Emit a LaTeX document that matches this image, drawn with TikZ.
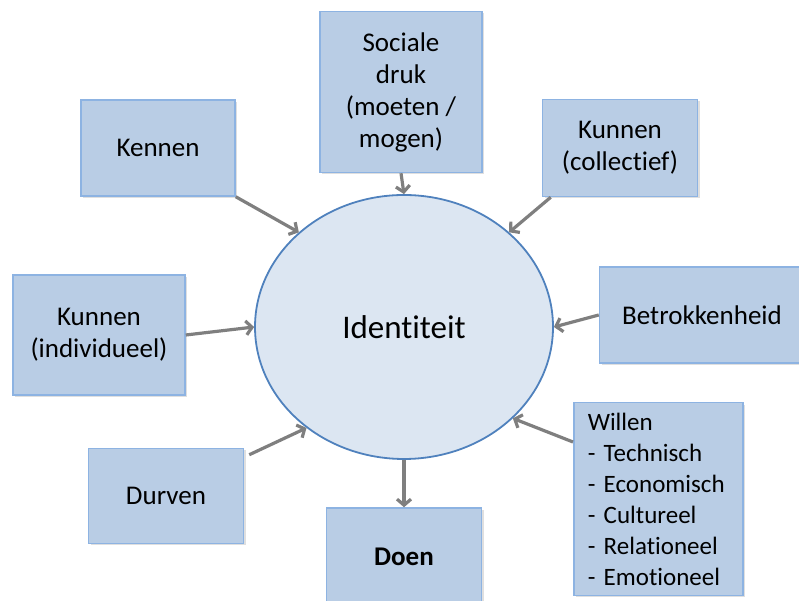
\documentclass[tikz,border=0pt]{standalone}
\usepackage{fontspec}
\setmainfont{Carlito}[Ligatures=NoCommon]
\usepackage{tikz}
\usetikzlibrary{arrows.meta,shapes.geometric,shadows}

\definecolor{boxfill}{HTML}{B9CDE5}
\definecolor{boxline}{HTML}{8DB3E2}
\definecolor{idfill}{HTML}{DCE6F2}
\definecolor{idline}{HTML}{4F81BD}
\definecolor{arrowgray}{HTML}{7F7F7F}

\begin{document}
\begin{tikzpicture}[x=1pt,y=1pt,->,>={Straight Barb[length=6pt,width=14pt]},line width=3.2pt,draw=arrowgray]
  \tikzstyle{factor}=[rectangle,fill=boxfill,draw=boxline,line width=1.5pt,
    align=center,inner sep=0pt,text=black,
    drop shadow={shadow xshift=2pt,shadow yshift=-2pt,opacity=.25},
    font=\fontsize{27}{32}\selectfont]
  \tikzstyle{core}=[ellipse,fill=idfill,draw=idline,line width=1.8pt,inner sep=0pt,
    minimum width=298pt,minimum height=264pt,font=\fontsize{33}{38}\selectfont]

  \useasboundingbox (0,0) rectangle (799,601);

  \node[core] (id) at (404,274) {Identiteit};

  \node[factor,minimum width=154pt,minimum height=96pt]  (kennen)  at (158,453) {Kennen};
  \node[factor,minimum width=162pt,minimum height=161pt] (sociale) at (401,509) {Sociale\\druk\\(moeten /\\mogen)};
  \node[factor,minimum width=155pt,minimum height=97pt]  (kolc)    at (620,453) {Kunnen\\(collectief)};
  \node[factor,minimum width=205pt,minimum height=96pt]  (betr)    at (702,286) {Betrokkenheid};
  \node[factor,minimum width=172pt,minimum height=120pt] (kind)    at (99,266)  {Kunnen\\(individueel)};
  \node[factor,minimum width=155pt,minimum height=95pt]  (durven)  at (166,105) {Durven};
  \node[factor,minimum width=155pt,minimum height=98pt]  (doen)    at (404,44)  {\bfseries Doen};
  \node[factor,anchor=north west,align=left,text width=141pt,inner xsep=14pt,inner ysep=10pt,
        font=\fontsize{25}{31}\selectfont] (willen) at (573,199)
        {Willen\\- Technisch\\- Economisch\\- Cultureel\\- Relationeel\\- Emotioneel};

  \path (kennen.south east)                 edge (id.138)
        (sociale.south)                     edge (id.north)
        ([xshift=9pt]kolc.south west)       edge (id.42)
        (betr.west)                         edge (id.east)
        (kind.east)                         edge (id.west)
        ([xshift=5pt,yshift=-7pt]durven.north east) edge (id.226)
        (id.south)                          edge (doen.north)
        ([yshift=-40pt]willen.north west)   edge (id.320);
\end{tikzpicture}
\end{document}
